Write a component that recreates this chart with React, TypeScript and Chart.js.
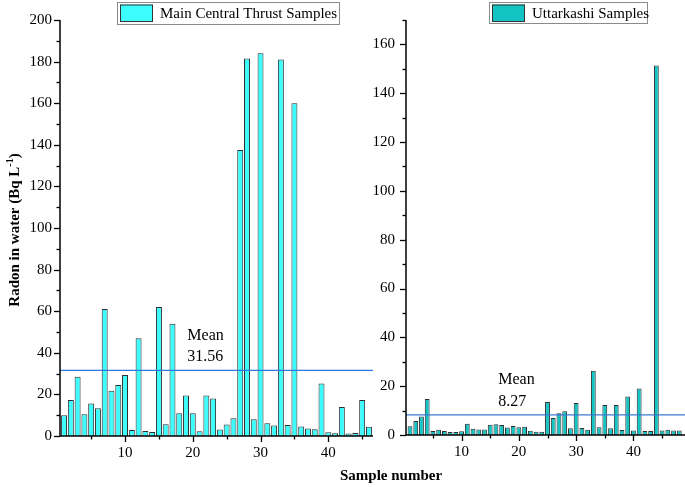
import React, { useEffect, useRef } from 'react';
import { Chart, registerables } from 'chart.js';
Chart.register(...registerables);

// ---- data ----
const mctValues = [10, 17.3, 28.5, 10.4, 15.6, 13.3, 61, 21.8, 24.5, 29.3, 2.9, 47, 2.4, 1.9, 62, 5.7, 54, 10.9, 19.5, 10.9, 2.3, 19.5, 18, 3.1, 5.5, 8.5, 137.5, 181.5, 8, 184, 6.1, 5.1, 181, 5.3, 160, 4.6, 3.6, 3.3, 25.3, 1.8, 1.3, 14, 1.2, 1.5, 17.3, 4.5];
const uttValues = [3.6, 5.7, 7.6, 14.7, 1.6, 2.1, 1.6, 1.2, 1.2, 1.5, 4.6, 2.6, 2.3, 2.3, 4.2, 4.4, 4.1, 3.1, 3.7, 3.2, 3.4, 1.7, 1.3, 1.3, 13.5, 7.0, 8.9, 9.7, 2.8, 13.1, 2.9, 2.2, 26.3, 3.2, 12.3, 2.8, 12.3, 2.0, 15.8, 1.8, 19.0, 1.6, 1.6, 151.4, 1.8, 2.1, 1.8, 1.8];
const mctMean = 31.56;
const uttMean = 8.27;
const mctYTicks = [0, 20, 40, 60, 80, 100, 120, 140, 160, 180, 200];
const uttYTicks = [0, 20, 40, 60, 80, 100, 120, 140, 160];
const xTickLabels = [10, 20, 30, 40];
const mctLegend = 'Main Central Thrust Samples';
const uttLegend = 'Uttarkashi Samples';
const yTitleMain = 'Radon in water (Bq L';
const yTitleSup = '-1';
const xTitle = 'Sample number';
const meanWord = 'Mean';

const SERIF = '"Liberation Serif", "Times New Roman", Times, serif';

type PanelOpts = {
  values: number[];
  mean: number;
  yMax: number;
  yTicks: number[];
  xMin: number;
  xMax: number;
  fill: string;
  barPct: number;
  legendText: string;
  legendBox: [number, number, number, number];
  meanLabelX: number;
  padTop: number;
  padRight: number;
  yAxisWidth: number;
  xAxisHeight: number;
  yLabelPad: number;
  meanColor: string;
  extra?: (ctx: CanvasRenderingContext2D, chart: any) => void;
};

function makeConfig(o: PanelOpts): any {
  const bars = o.values.map((v, i) => ({ x: i + 1, y: v }));
  const meanLine = [
    { x: o.xMin, y: o.mean },
    { x: o.xMax, y: o.mean },
  ];
  const decor = {
    id: 'decor',
    afterDraw(chart: any) {
      const ctx: CanvasRenderingContext2D = chart.ctx;
      const { left, right, top, bottom } = chart.chartArea;
      const xs = chart.scales.x;
      const ys = chart.scales.y;
      ctx.save();
      ctx.strokeStyle = '#000';
      ctx.lineWidth = 1.5;
      // axis lines
      ctx.beginPath();
      ctx.moveTo(left, top);
      ctx.lineTo(left, bottom);
      ctx.lineTo(right, bottom);
      ctx.stroke();
      // x ticks
      ctx.lineWidth = 1.3;
      for (let v = 5; v <= o.xMax; v += 5) {
        const px = Math.round(xs.getPixelForValue(v)) + 0.5;
        if (px < left || px > right) continue;
        const len = v % 10 === 0 ? 6 : 3.5;
        ctx.beginPath();
        ctx.moveTo(px, bottom);
        ctx.lineTo(px, bottom + len);
        ctx.stroke();
      }
      // x tick labels
      ctx.fillStyle = '#000';
      ctx.font = `15px ${SERIF}`;
      ctx.textAlign = 'center';
      ctx.textBaseline = 'top';
      xTickLabels.forEach((v) => {
        ctx.fillText(String(v), xs.getPixelForValue(v), bottom + 10);
      });
      // y ticks
      for (let v = 0; v <= o.yMax; v += 10) {
        const py = Math.round(ys.getPixelForValue(v)) + 0.5;
        const len = v % 20 === 0 ? 6 : 3.5;
        ctx.beginPath();
        ctx.moveTo(left, py);
        ctx.lineTo(left - len, py);
        ctx.stroke();
      }
      // legend
      const [bx, by, bw, bh] = o.legendBox;
      ctx.fillStyle = '#fff';
      ctx.fillRect(bx, by, bw, bh);
      ctx.strokeStyle = '#8a8a8a';
      ctx.lineWidth = 1;
      ctx.strokeRect(bx + 0.5, by + 0.5, bw, bh);
      ctx.fillStyle = o.fill;
      ctx.fillRect(bx + 3, by + 2.5, 33, 17);
      ctx.strokeStyle = '#333';
      ctx.strokeRect(bx + 3.5, by + 3, 32, 16.5);
      ctx.fillStyle = '#000';
      ctx.font = `15px ${SERIF}`;
      ctx.textAlign = 'left';
      ctx.textBaseline = 'alphabetic';
      ctx.fillText(o.legendText, bx + 43, by + 16);
      // mean label
      const mx = xs.getPixelForValue(o.meanLabelX);
      const my = ys.getPixelForValue(o.mean);
      ctx.font = `16px ${SERIF}`;
      ctx.fillText(meanWord, mx, my - 30.5);
      ctx.fillText(o.mean.toFixed(2), mx, my - 9);
      if (o.extra) o.extra(ctx, chart);
      ctx.restore();
    },
  };
  return {
    type: 'bar',
    data: {
      datasets: [
        {
          type: 'line',
          data: meanLine,
          borderColor: o.meanColor,
          borderWidth: 1.3,
          pointRadius: 0,
          order: 0,
        },
        {
          type: 'bar',
          data: bars,
          backgroundColor: o.fill,
          borderColor: '#2e2e2e',
          borderWidth: 1,
          barPercentage: o.barPct,
          categoryPercentage: 1,
          order: 1,
        },
      ],
    },
    options: {
      responsive: false,
      animation: false,
      devicePixelRatio: 1,
      layout: { padding: { top: o.padTop, right: o.padRight, left: 0, bottom: 0 } },
      plugins: { legend: { display: false }, tooltip: { enabled: false } },
      scales: {
        x: {
          type: 'linear',
          offset: false,
          min: o.xMin,
          max: o.xMax,
          grid: { display: false, drawTicks: false, offset: false },
          border: { display: false },
          afterBuildTicks: (s: any) => {
            s.ticks = xTickLabels.map((v) => ({ value: v }));
          },
          afterFit: (s: any) => {
            s.height = o.xAxisHeight;
          },
          ticks: { display: false },
        },
        y: {
          type: 'linear',
          min: 0,
          max: o.yMax,
          grid: { display: false, drawTicks: false },
          border: { display: false },
          afterBuildTicks: (s: any) => {
            s.ticks = o.yTicks.map((v) => ({ value: v }));
          },
          afterFit: (s: any) => {
            s.width = o.yAxisWidth;
          },
          ticks: {
            font: { family: SERIF, size: 15 },
            color: '#000',
            padding: o.yLabelPad,
            autoSkip: false,
          },
        },
      },
    },
    plugins: [decor],
  };
}

function drawYTitle(ctx: CanvasRenderingContext2D) {
  ctx.save();
  ctx.translate(15, 230);
  ctx.rotate(-Math.PI / 2);
  ctx.fillStyle = '#000';
  ctx.textBaseline = 'middle';
  ctx.textAlign = 'left';
  const mainFont = `bold 15px ${SERIF}`;
  const supFont = `bold 10px ${SERIF}`;
  ctx.font = mainFont;
  const w1 = ctx.measureText(yTitleMain).width;
  const w3 = ctx.measureText(')').width;
  ctx.font = supFont;
  const w2 = ctx.measureText(yTitleSup).width;
  const total = w1 + w2 + w3;
  let x = -total / 2;
  ctx.font = mainFont;
  ctx.fillText(yTitleMain, x, 0);
  x += w1;
  ctx.font = supFont;
  ctx.fillText(yTitleSup, x, -5);
  x += w2;
  ctx.font = mainFont;
  ctx.fillText(')', x, 0);
  ctx.restore();
}

function drawXTitle(ctx: CanvasRenderingContext2D) {
  ctx.save();
  ctx.fillStyle = '#000';
  ctx.font = `bold 15px ${SERIF}`;
  ctx.textAlign = 'center';
  ctx.textBaseline = 'middle';
  ctx.fillText(xTitle, 51, 476);
  ctx.restore();
}

export default function App() {
  const leftRef = useRef<HTMLCanvasElement>(null);
  const rightRef = useRef<HTMLCanvasElement>(null);

  useEffect(() => {
    const left = new Chart(
      leftRef.current as HTMLCanvasElement,
      makeConfig({
        values: mctValues,
        mean: mctMean,
        yMax: 200,
        yTicks: mctYTicks,
        xMin: 0.4,
        xMax: 46.6,
        fill: '#3cfcfc',
        barPct: 0.88,
        legendText: mctLegend,
        legendBox: [117, 2, 222, 22],
        meanLabelX: 19.2,
        padTop: 20,
        padRight: 7,
        yAxisWidth: 60,
        xAxisHeight: 51,
        yLabelPad: 8,
        meanColor: '#2f78e0',
        extra: (ctx) => drawYTitle(ctx),
      })
    );
    const right = new Chart(
      rightRef.current as HTMLCanvasElement,
      makeConfig({
        values: uttValues,
        mean: uttMean,
        yMax: 170,
        yTicks: uttYTicks,
        xMin: 0.3,
        xMax: 49,
        fill: '#12c4c4',
        barPct: 0.84,
        legendText: uttLegend,
        legendBox: [149, 2, 158, 21],
        meanLabelX: 16.4,
        padTop: 14,
        padRight: 0,
        yAxisWidth: 66,
        xAxisHeight: 52,
        yLabelPad: 11,
        meanColor: '#3a7bd0',
        extra: (ctx) => drawXTitle(ctx),
      })
    );
    return () => {
      left.destroy();
      right.destroy();
    };
  }, []);

  return (
    <div style={{ position: 'absolute', left: 0, top: 0, width: 685, height: 487, background: '#fff' }}>
      <canvas
        ref={leftRef}
        width={380}
        height={487}
        style={{ position: 'absolute', left: 0, top: 0, width: 380, height: 487 }}
      />
      <canvas
        ref={rightRef}
        width={345}
        height={487}
        style={{ position: 'absolute', left: 340, top: 0, width: 345, height: 487 }}
      />
    </div>
  );
}
